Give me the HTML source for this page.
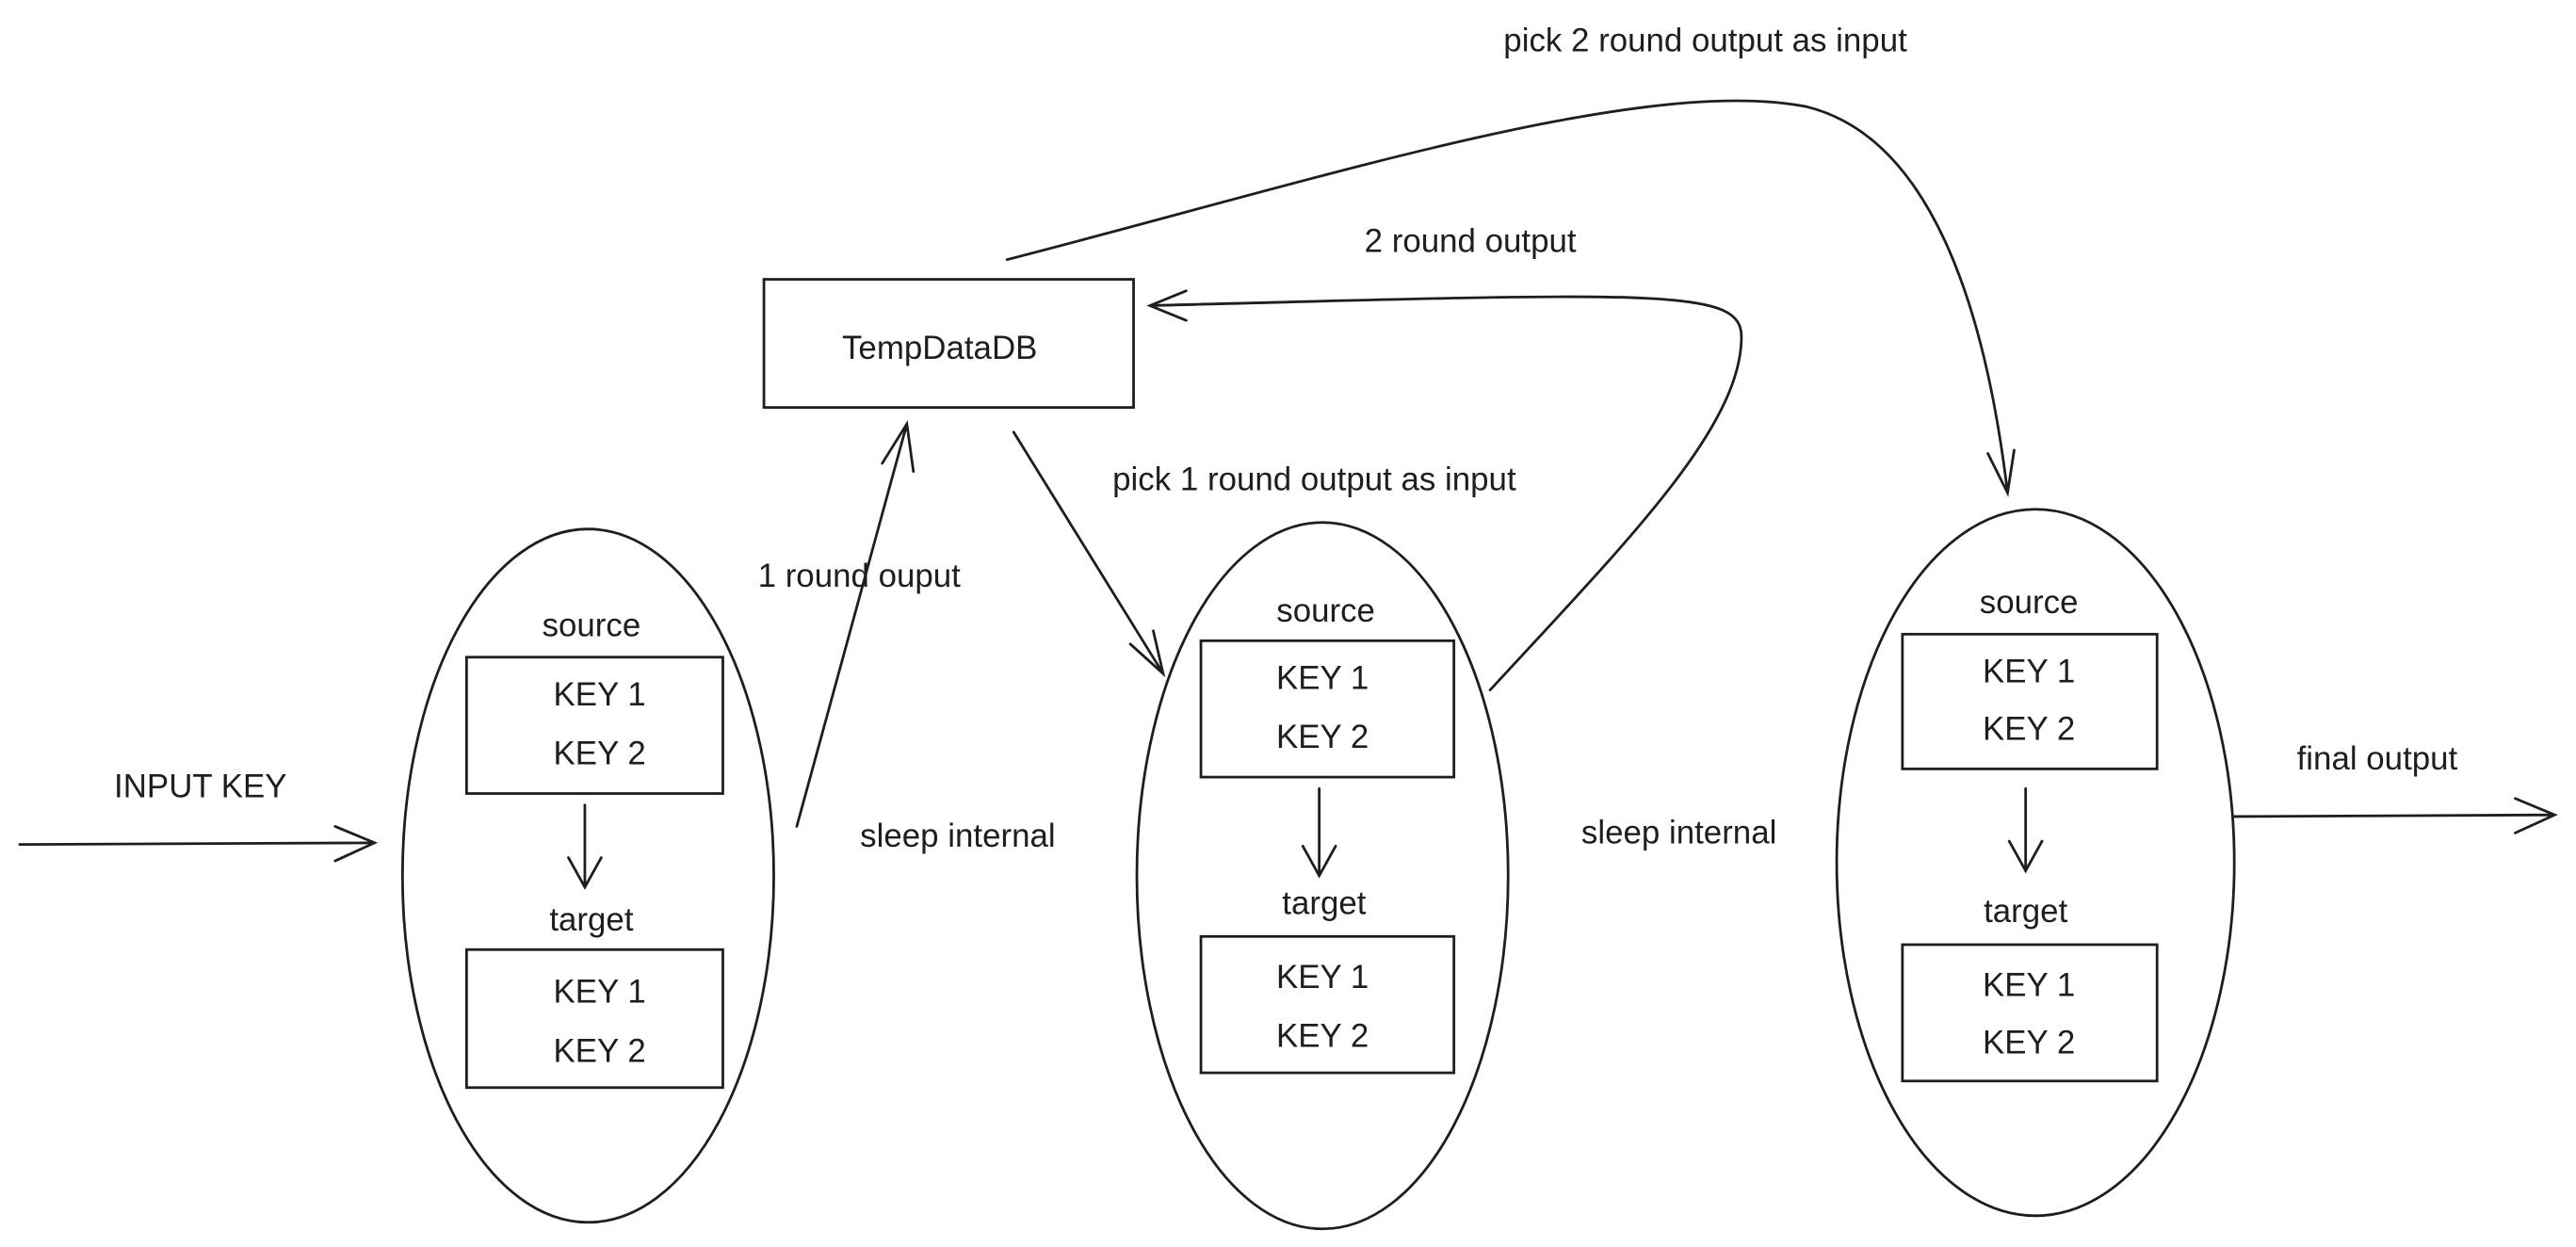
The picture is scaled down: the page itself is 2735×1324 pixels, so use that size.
<!DOCTYPE html>
<html><head><meta charset="utf-8"><style>
html,body{margin:0;padding:0;background:#fff;}
svg{display:block;}
text{font-family:"Liberation Sans",sans-serif;font-size:20px;fill:#1e1e1e;text-anchor:middle;dominant-baseline:middle;}
.s{fill:none;stroke:#1e1e1e;stroke-width:1.6;stroke-linecap:round;}
</style></head><body>
<svg width="2735" height="1324" viewBox="0 0 1568 759" xmlns="http://www.w3.org/2000/svg">
<!-- ellipses -->
<ellipse class="s" cx="358" cy="533" rx="113" ry="211"/>
<ellipse class="s" cx="805" cy="533" rx="113" ry="215"/>
<ellipse class="s" cx="1239" cy="525" rx="121" ry="215"/>
<!-- TempDataDB -->
<rect class="s" x="465" y="170" width="225" height="78"/>
<text x="572" y="213">TempDataDB</text>
<!-- ellipse 1 content -->
<text x="360" y="382">source</text>
<rect class="s" x="284" y="400" width="156" height="83"/>
<text x="365" y="424">KEY 1</text><text x="365" y="460">KEY 2</text>
<path class="s" d="M356 490 L356 540 M346 522 L356 540 L366 522"/>
<text x="360" y="561">target</text>
<rect class="s" x="284" y="578" width="156" height="84"/>
<text x="365" y="605">KEY 1</text><text x="365" y="641">KEY 2</text>
<!-- ellipse 2 content -->
<text x="807" y="373">source</text>
<rect class="s" x="731" y="390" width="154" height="83"/>
<text x="805" y="414">KEY 1</text><text x="805" y="450">KEY 2</text>
<path class="s" d="M803 480 L803 533 M793 515 L803 533 L813 515"/>
<text x="806" y="551">target</text>
<rect class="s" x="731" y="570" width="154" height="83"/>
<text x="805" y="596">KEY 1</text><text x="805" y="632">KEY 2</text>
<!-- ellipse 3 content -->
<text x="1235" y="368">source</text>
<rect class="s" x="1158" y="386" width="155" height="82"/>
<text x="1235" y="410">KEY 1</text><text x="1235" y="445">KEY 2</text>
<path class="s" d="M1233 480 L1233 530 M1223 512 L1233 530 L1243 512"/>
<text x="1233" y="556">target</text>
<rect class="s" x="1158" y="575" width="155" height="83"/>
<text x="1235" y="601">KEY 1</text><text x="1235" y="636">KEY 2</text>
<!-- input arrow -->
<path class="s" d="M12 514 L228 513 M204 503 L228 513 L204 524"/>
<text x="122" y="480">INPUT KEY</text>
<!-- final output -->
<path class="s" d="M1360 497 L1555 496 M1531 486 L1555 496 L1531 507"/>
<text x="1447" y="463">final output</text>
<!-- 1 round output -->
<path class="s" d="M485 503 L552 258 M537 282 L552 258 L556 287"/>
<text x="523" y="352">1 round ouput</text>
<!-- pick 1 -->
<path class="s" d="M617 263 L708 410 M688 392 L708 410 L702 384"/>
<text x="800" y="293">pick 1 round output as input</text>
<!-- 2 round output curve -->
<path class="s" d="M907 420 C990 330 1060 260 1060 205 C1060 175 1010 178 700 186 M722 177 L700 186 L722 195"/>
<text x="895" y="148">2 round output</text>
<!-- pick 2 curve -->
<path class="s" d="M613 158 C800 110 1000 45 1100 65 C1180 85 1210 200 1222 300 M1210 276 L1222 300 L1226 274"/>
<text x="1038" y="26">pick 2 round output as input</text>
<text x="583" y="510">sleep internal</text>
<text x="1022" y="508">sleep internal</text>
</svg>
</body></html>
